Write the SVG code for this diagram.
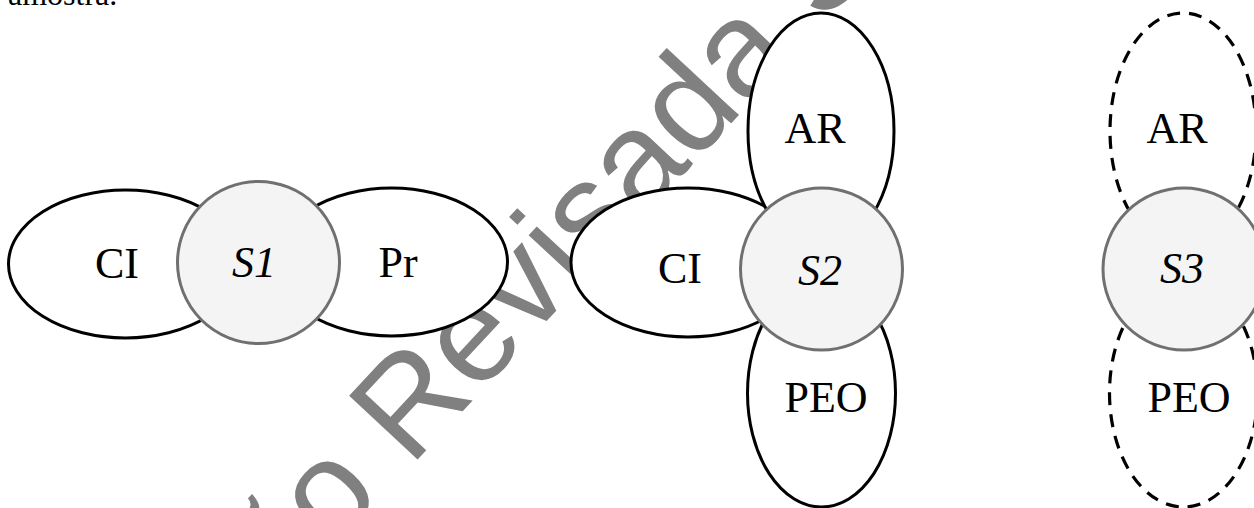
<svg xmlns="http://www.w3.org/2000/svg" width="1254" height="508" viewBox="0 0 1254 508">
<style>
.el{fill:#ffffff;stroke:#000000;stroke-width:3}
.dash{fill:#ffffff;stroke:#000000;stroke-width:3.2;stroke-dasharray:13 9}
.core{fill:#f4f4f4;stroke:#707070;stroke-width:3}
.lbl{font-family:"Liberation Serif","Times New Roman",serif;font-size:44px;fill:#000000;text-anchor:middle}
.it{font-style:italic}
.wm{font-family:"Liberation Sans",Arial,sans-serif;font-size:136px;fill:#808080}
</style>
<rect x="0" y="0" width="1254" height="508" fill="#ffffff"/>
<text x="8" y="5" font-family="Liberation Serif, serif" font-size="32" fill="#000000">amostra.</text>
<g id="watermark">
<text class="wm" transform="translate(281,606) rotate(-47)">ão Revisada S</text>
</g>
<g id="connectors"/>
<g id="S1">
<ellipse class="el" cx="125.5" cy="264" rx="117" ry="74"/>
<ellipse class="el" cx="391.5" cy="262" rx="116" ry="74"/>
<circle class="core" cx="258.5" cy="262.5" r="81"/>
<text class="lbl" x="117" y="278">CI</text>
<text class="lbl it" x="254" y="277">S1</text>
<text class="lbl" x="398" y="277">Pr</text>
</g>
<g id="S2">
<ellipse class="el" cx="688" cy="262.5" rx="117" ry="74.5"/>
<ellipse class="el" cx="821" cy="131" rx="73" ry="118"/>
<ellipse class="el" cx="821.5" cy="393" rx="74" ry="114"/>
<circle class="core" cx="821.5" cy="269" r="81"/>
<text class="lbl" x="680" y="283">CI</text>
<text class="lbl it" x="820" y="285">S2</text>
<text class="lbl" x="815" y="143">AR</text>
<text class="lbl" x="826" y="412">PEO</text>
</g>
<g id="S3">
<ellipse class="dash" cx="1183" cy="131" rx="73" ry="118"/>
<ellipse class="dash" cx="1183.5" cy="393" rx="74" ry="114"/>
<circle class="core" cx="1184" cy="269" r="81"/>
<text class="lbl" x="1177" y="143">AR</text>
<text class="lbl it" x="1182" y="283">S3</text>
<text class="lbl" x="1189" y="412">PEO</text>
</g>
</svg>
